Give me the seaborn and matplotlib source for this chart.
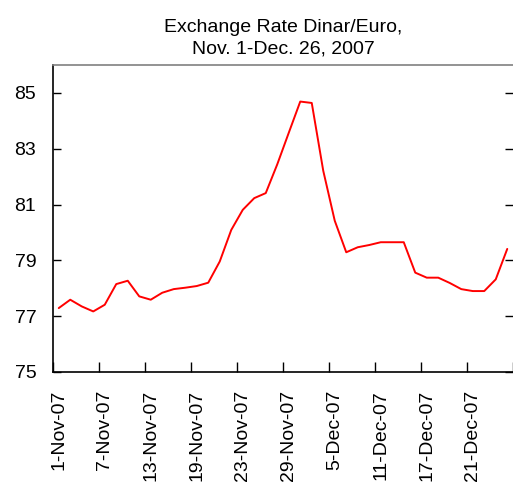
import matplotlib
matplotlib.use("Agg")
import matplotlib.pyplot as plt
import seaborn as sns
import pandas as pd
from matplotlib.ticker import FixedLocator

# trading days, Nov 1 - Dec 26, 2007
dates = ["1-Nov-07", "2-Nov-07", "5-Nov-07", "6-Nov-07", "7-Nov-07", "8-Nov-07",
         "9-Nov-07", "12-Nov-07", "13-Nov-07", "14-Nov-07", "15-Nov-07", "16-Nov-07",
         "19-Nov-07", "20-Nov-07", "21-Nov-07", "22-Nov-07", "23-Nov-07", "26-Nov-07",
         "27-Nov-07", "28-Nov-07", "29-Nov-07", "30-Nov-07", "3-Dec-07", "4-Dec-07",
         "5-Dec-07", "6-Dec-07", "7-Dec-07", "10-Dec-07", "11-Dec-07", "12-Dec-07",
         "13-Dec-07", "14-Dec-07", "17-Dec-07", "18-Dec-07", "19-Dec-07", "20-Dec-07",
         "21-Dec-07", "24-Dec-07", "25-Dec-07", "26-Dec-07"]
rate = [77.29, 77.59, 77.35, 77.17, 77.41, 78.15, 78.27, 77.71, 77.59, 77.84,
        77.97, 78.02, 78.08, 78.20, 78.96, 80.09, 80.81, 81.23, 81.41, 82.44,
        83.57, 84.69, 84.64, 82.21, 80.42, 79.29, 79.47, 79.55, 79.65, 79.65,
        79.65, 78.56, 78.38, 78.38, 78.19, 77.97, 77.90, 77.90, 78.32, 79.41]
yticks = [75, 77, 79, 81, 83, 85]

df = pd.DataFrame({"pos": range(len(dates)), "date": dates, "rate": rate})

sns.set_theme(style="white")
plt.rcParams["font.family"] = ["Liberation Sans", "DejaVu Sans"]

fig = plt.figure(figsize=(5.13, 4.87), dpi=100)
ax = fig.add_axes([53 / 513, 115 / 487, 460 / 513, 307 / 487])

sns.lineplot(data=df, x="pos", y="rate", color="#ff0000", linewidth=1.4, ax=ax)

ax.set_xlim(-0.5, len(dates) - 0.5)
ax.set_ylim(75, 86)
ax.set_yticks(yticks)
ax.set_yticklabels([str(v) for v in yticks], fontsize=14)

label_pos = list(range(0, len(dates), 4))
ax.set_xticks(label_pos)
ax.set_xticklabels([dates[i] for i in label_pos], rotation=90, fontsize=14)
ax.xaxis.set_minor_locator(FixedLocator([p - 0.5 for p in range(0, len(dates) + 1, 4)]))
ax.tick_params(axis="x", which="major", length=0, pad=13, colors="black")
ax.tick_params(axis="x", which="minor", direction="in", length=7, width=1,
               color="black", bottom=True)
ax.tick_params(axis="y", direction="in", length=6, width=1, color="black",
               left=True, right=True, pad=12, labelcolor="black")

ax.set_xlabel("")
ax.set_ylabel("")
ax.set_title("Exchange Rate Dinar/Euro,\nNov. 1-Dec. 26, 2007", fontsize=14,
             color="black", pad=8, linespacing=1.4)

for side in ["left", "bottom"]:
    ax.spines[side].set_color("black")
    ax.spines[side].set_linewidth(1.2)
ax.spines["top"].set_color("#808080")
ax.spines["top"].set_linewidth(1.2)
ax.spines["right"].set_visible(False)
ax.grid(False)

fig.savefig("out.png", dpi=100)
